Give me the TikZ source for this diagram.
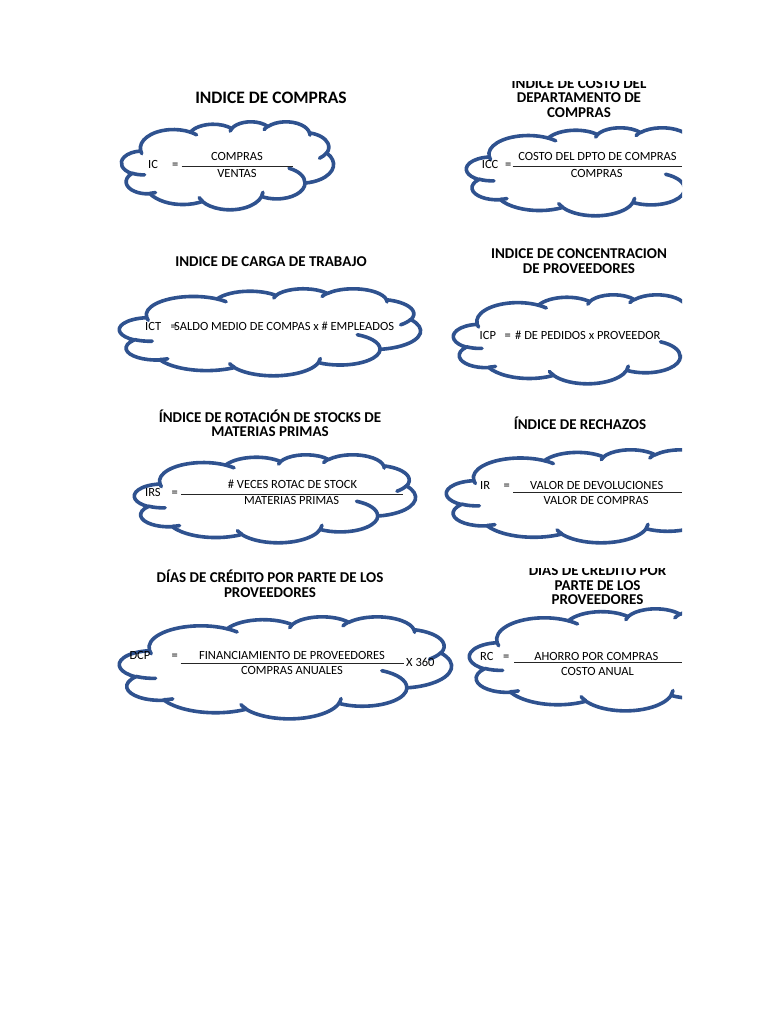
\documentclass[tikz,border=0pt]{standalone}
\usepackage{fontspec}
\setmainfont{Carlito}
\definecolor{azul}{RGB}{47,82,143}
\tikzset{nube/.style={draw=azul,line width=3.6pt,line join=round,line cap=round},
         titulo/.style={font=\bfseries\fontsize{15}{14.5}\selectfont,align=center,anchor=base,inner sep=0pt},
         texto/.style={font=\fontsize{12.5}{14}\selectfont,anchor=base,inner sep=0pt},
         raya/.style={line width=.8pt,black!85},
         declare function={pang(\w,\h,\a)=atan2(\w*sin(\a),\h*cos(\a));
                           pdel(\w,\h,\a,\s)=mod(pang(\w,\h,\a+\s)-pang(\w,\h,\a)+720,360);}}
\newcommand\arco[4]{arc[x radius=#1,y radius=#2,start angle={pang(#1,#2,#3)},delta angle={pdel(#1,#2,#3,#4)}]}
\newcommand\nube[4]{%
  \begin{scope}[shift={(#1,#2)},xscale=#3/432,yscale=#4/432]
    \draw[nube] (39,143.7) \arco{67.53}{91.9}{-190.4875}{123.7805}
      \arco{53.33}{72.67}{-144.1024}{89.9452} \arco{43.65}{59.45}{-145.8079}{99.723}
      \arco{48.57}{65.95}{-130.9861}{117.2417} \arco{53.33}{72.73}{-78.7089}{109.0269}
      \arco{67.75}{92.2}{-46.2673}{130.269} \arco{57.85}{78.67}{0.625}{114.0333}
      \arco{67.52}{92.15}{22.4516}{115.1726} \arco{77.2}{105.43}{66.2426}{75.711}
      \arco{43.6}{59.18}{-274.9421}{146.7356} \arco{43.45}{59.45}{-246.8285}{152.5189} -- cycle;
    \draw[nube] (46.93,261.77) \arco{43.45}{59.45}{86.742}{26.4295}
      (69.28,348.99) \arco{43.6}{59.18}{73.6105}{11.4475}
      (164.78,390.9) \arco{67.52}{92.15}{137.6242}{14.0811}
      (288.27,347.51) \arco{67.52}{92.15}{6.4533}{15.9984}
      (341.29,229.54) \arco{57.85}{78.67}{-70.2924}{70.9174}
      (417.98,153.54) \arco{53.33}{72.73}{30.318}{27.7515}
      (383.24,54.26) \arco{48.57}{65.95}{-13.7443}{14.8589}
      (290.78,39.52) \arco{48.57}{65.95}{-149.1815}{18.1954}
      (221.41,47.2) \arco{43.65}{59.45}{-163.4943}{17.6864}
      (140,51.92) \arco{67.53}{91.9}{-66.707}{12.3194}
      (41.27,157.89) \arco{67.53}{91.9}{157.65}{11.86};
  \end{scope}}

\begin{document}
\begin{tikzpicture}[x=1pt,y=-1pt]
  \fill[white] (0,0) rectangle (768,1024);
  \useasboundingbox (0,0) rectangle (768,1024);

  \node[titulo,font=\bfseries\fontsize{17.5}{18}\selectfont] (t-ic) at (271,104) {INDICE DE COMPRAS};
  \nube{121.5}{121.5}{212}{88}
  \node[texto,anchor=base west] (ic) at (148,169) {IC};
  \node[texto,anchor=base west] (ic-igual) at (172,169) {=};
  \node[texto] (ic-num) at (237,160.7) {COMPRAS};
  \node[texto] (ic-den) at (237,177.3) {VENTAS};
  \draw[raya] (181.7,166.7) -- (292.7,166.7);

  \node[titulo] (t-ict) at (271,266) {INDICE DE CARGA DE TRABAJO};
  \nube{119.5}{288.5}{301}{87}
  \node[texto,anchor=base west] (ict) at (145,330) {ICT};
  \node[texto,anchor=base west] (ict-igual) at (170.5,330) {=};
  \node[texto,anchor=base west] (ict-txt) at (174,330) {SALDO MEDIO DE COMPAS x \# EMPLEADOS};

  \node[titulo] (t-irs) at (270,436.7) {ÍNDICE DE ROTACIÓN DE STOCKS DE\\MATERIAS PRIMAS};
  \nube{134.5}{454.5}{281}{88}
  \node[texto,anchor=base west] (irs) at (145,496) {IRS};
  \node[texto,anchor=base west] (irs-igual) at (171.5,496) {=};
  \node[texto] (irs-num) at (292.5,488.3) {\# VECES ROTAC DE STOCK};
  \node[texto] (irs-den) at (291.7,504.3) {MATERIAS PRIMAS};
  \draw[raya] (181,494) -- (403.3,494);

  \node[titulo] (t-dcp) at (270,597.3) {DÍAS DE CRÉDITO POR PARTE DE LOS\\PROVEEDORES};
  \nube{119.5}{616.5}{332}{102}
  \node[texto,anchor=base west] (dcp) at (129.3,659) {DCP};
  \node[texto,anchor=base west] (dcp-igual) at (171.5,659) {=};
  \node[texto] (dcp-num) at (292,659.3) {FINANCIAMIENTO DE PROVEEDORES};
  \node[texto] (dcp-den) at (292,674.5) {COMPRAS ANUALES};
  \node[texto,anchor=base west] (dcp-x) at (406,666) {X 360};
  \draw[raya] (180.7,663.3) -- (404,663.3);

  \begin{scope}
    \clip (440,0) rectangle (682,1024);
    \begin{scope}
      \clip (440,82) rectangle (682,130);
      \node[titulo] (t-icc) at (579,117.3) {INDICE DE COSTO DEL\\DEPARTAMENTO DE\\COMPRAS};
    \end{scope}
    \nube{466.5}{127.5}{252}{88}
    \node[texto,anchor=base west] (icc) at (481.7,168.3) {ICC};
    \node[texto,anchor=base west] (icc-igual) at (505,168.3) {=};
    \node[texto] (icc-num) at (597.5,160.7) {COSTO DEL DPTO DE COMPRAS};
    \node[texto] (icc-den) at (596.7,177.3) {COMPRAS};
    \draw[raya] (512.7,166.7) -- (682,166.7);

    \node[titulo] (t-icp) at (579,273.3) {INDICE DE CONCENTRACION\\DE PROVEEDORES};
    \nube{453.5}{294.5}{262}{89}
    \node[texto,anchor=base west] (icp) at (479.5,339) {ICP};
    \node[texto,anchor=base west] (icp-igual) at (504.5,339) {=};
    \node[texto,anchor=base west] (icp-txt) at (515,339) {\# DE PEDIDOS x PROVEEDOR};

    \node[titulo] (t-ir) at (580,429.3) {ÍNDICE DE RECHAZOS};
    \nube{446.5}{449.5}{302}{93}
    \node[texto,anchor=base west] (ir) at (480,489.3) {IR};
    \node[texto,anchor=base west] (ir-igual) at (503.5,489.3) {=};
    \node[texto] (ir-num) at (596.7,489.3) {VALOR DE DEVOLUCIONES};
    \node[texto] (ir-den) at (596.2,504.3) {VALOR DE COMPRAS};
    \draw[raya] (513.3,492.7) -- (682,492.7);

    \begin{scope}
      \clip (440,568) rectangle (682,603);
      \node[titulo] (t-rc) at (597.5,604.5) {DIAS DE CRÉDITO POR\\PARTE DE LOS\\PROVEEDORES};
    \end{scope}
    \nube{469.5}{608.5}{305}{102}
    \node[texto,anchor=base west] (rc) at (480,660) {RC};
    \node[texto,anchor=base west] (rc-igual) at (503,660) {=};
    \node[texto] (rc-num) at (596.3,660) {AHORRO POR COMPRAS};
    \node[texto] (rc-den) at (597.5,675) {COSTO ANUAL};
    \draw[raya] (514.3,662.7) -- (682,662.7);
  \end{scope}
\end{tikzpicture}
\end{document}
